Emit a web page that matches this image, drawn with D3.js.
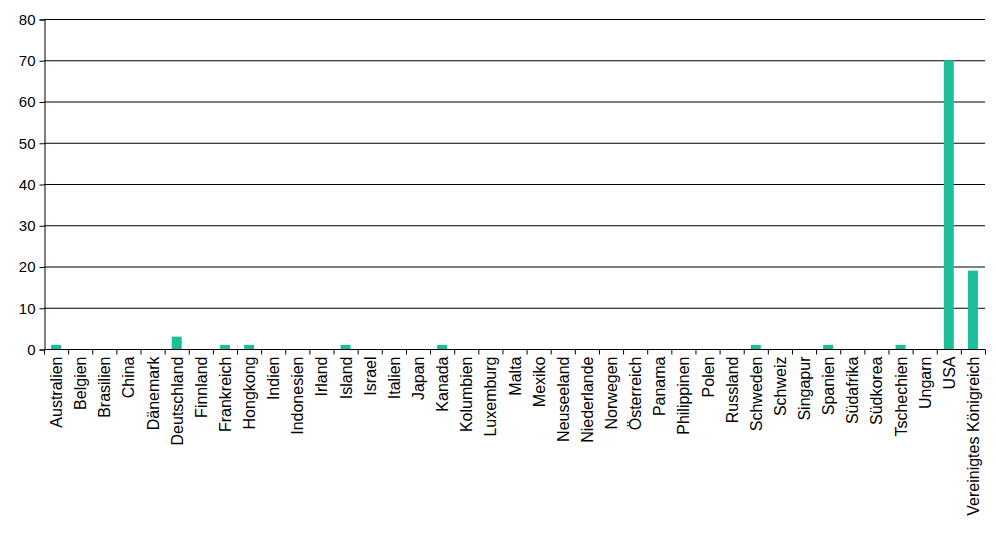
<!DOCTYPE html><html><head><meta charset="utf-8"><script src="https://cdn.jsdelivr.net/npm/d3@7"></script>
<style>body{margin:0;background:#fff}text{font-family:"Liberation Sans",Arial,sans-serif}</style></head><body>
<svg id="c" width="996" height="536"></svg>
<script>
const categories=["Australien","Belgien","Brasilien","China","Dänemark","Deutschland","Finnland","Frankreich","Hongkong","Indien","Indonesien","Irland","Island","Israel","Italien","Japan","Kanada","Kolumbien","Luxemburg","Malta","Mexiko","Neuseeland","Niederlande","Norwegen","Österreich","Panama","Philippinen","Polen","Russland","Schweden","Schweiz","Singapur","Spanien","Südafrika","Südkorea","Tschechien","Ungarn","USA","Vereinigtes Königreich"];
const values=[1,0,0,0,0,3,0,1,1,0,0,0,1,0,0,0,1,0,0,0,0,0,0,0,0,0,0,0,0,1,0,0,1,0,0,1,0,70,19];
const yTicks=[0,10,20,30,40,50,60,70,80];
const svg=d3.select("#c");
const L=44,R=985,T=19,B=349;
const x=d3.scaleBand().domain(categories).range([L,R]);
const y=d3.scaleLinear().domain([0,80]).range([B,T]);
svg.append("g").selectAll("line").data(yTicks.filter(d=>d>0)).join("line")
 .attr("x1",L).attr("x2",R).attr("y1",d=>y(d)+0.5).attr("y2",d=>y(d)+0.5).attr("stroke","#000");
const bw=10;
svg.append("g").selectAll("rect").data(values).join("rect")
 .attr("x",(d,i)=>x(categories[i])+x.bandwidth()/2-bw/2).attr("width",bw)
 .attr("y",d=>y(d)).attr("height",d=>B-y(d)).attr("fill","#1dbf9a");
const ya=svg.append("g").attr("transform",`translate(${L+0.5},0.5)`).call(d3.axisLeft(y).tickValues(yTicks).tickSize(5).tickPadding(4));
ya.attr("font-size",null);
ya.selectAll("text").style("font-size","15px").attr("fill","#000");
ya.selectAll("line,path").attr("stroke","#000");
const xa=svg.append("g").attr("transform",`translate(0,${B+0.5})`);
xa.append("line").attr("x1",L).attr("x2",R).attr("stroke","#000");
xa.selectAll("line.t").data(d3.range(categories.length+1)).join("line").attr("class","t")
 .attr("x1",i=>L+i*x.step()+0.5).attr("x2",i=>L+i*x.step()+0.5).attr("y1",0).attr("y2",5).attr("stroke","#000");
xa.selectAll("text").data(categories).join("text")
 .attr("transform",d=>`translate(${x(d)+x.bandwidth()/2+6},7) rotate(-90)`)
 .attr("text-anchor","end").style("font-size","16px").attr("fill","#000").text(d=>d);
</script></body></html>
